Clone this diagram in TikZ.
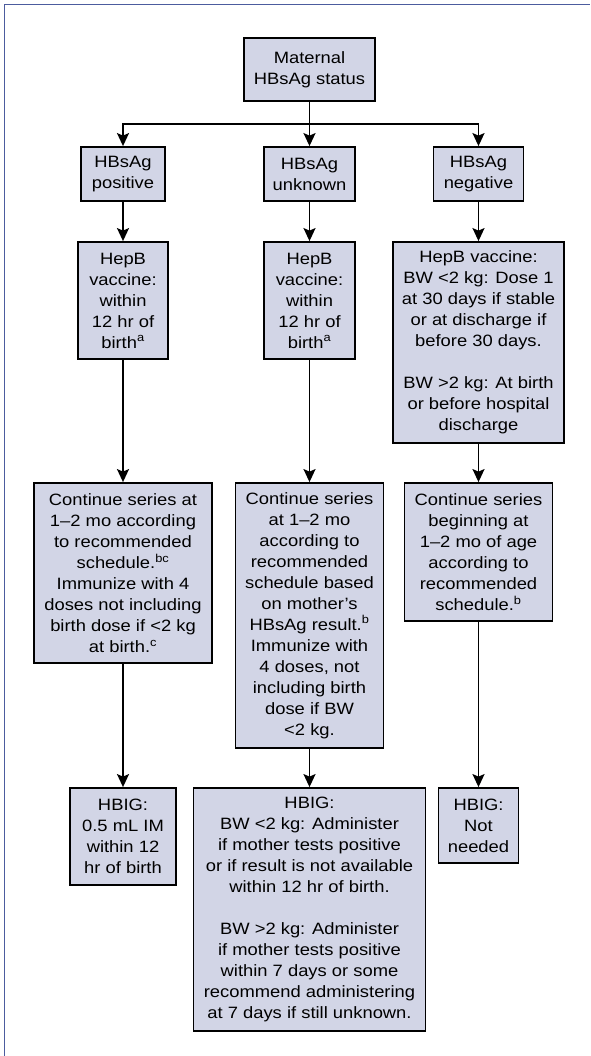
\documentclass[tikz,border=0pt]{standalone}
\usepackage{fontspec}
\setmainfont{Liberation Sans}[FakeStretch=1.12]
\usetikzlibrary{arrows.meta}
\definecolor{boxfill}{RGB}{210,213,230}
\definecolor{framecol}{RGB}{76,92,158}
\begin{document}
\begin{tikzpicture}[x=1pt,y=-1pt,
  box/.style={draw=black,line width=1.8pt,fill=boxfill,inner sep=0pt,
    align=center,font=\fontsize{16.4}{21}\selectfont},
  link/.style={line width=1.8pt},
  arr/.style={link,-{Stealth[length=13pt,width=12pt,inset=2.5pt]}}]
\useasboundingbox (0,0) rectangle (590,1056);
% frame lines along the top and left edges
\draw[framecol,line width=1.6pt] (4.5,1056) -- (4.5,4.5) -- (590,4.5);

% top
\node[box,minimum width=131,minimum height=63] (top) at (309.5,69.5)
  {Maternal\\HBsAg status};

% status boxes
\node[box,minimum width=84,minimum height=54] (pos) at (123,174) {HBsAg\\positive};
\node[box,minimum width=91,minimum height=54] (unk) at (309.5,174) {HBsAg\\unknown};
\node[box,minimum width=90,minimum height=54] (neg) at (478.5,174) {HBsAg\\negative};

% vaccine at birth
\node[box,minimum width=90,minimum height=117] (vpos) at (123,300.5)
  {HepB\\vaccine:\\within\\12 hr of\\birth\textsuperscript{a}};
\node[box,minimum width=91,minimum height=117] (vunk) at (309.5,300.5)
  {HepB\\vaccine:\\within\\12 hr of\\birth\textsuperscript{a}};
\node[box,minimum width=171,minimum height=201] (vneg) at (478.5,342.5)
  {HepB vaccine:\\BW <2 kg: Dose 1\\at 30 days if stable\\or at discharge if\\before 30 days.\\[21pt]BW >2 kg: At birth\\or before hospital\\discharge};

% series continuation
\node[box,minimum width=178,minimum height=180] (cpos) at (123,573)
  {Continue series at\\1–2 mo according\\to recommended\\schedule.\textsuperscript{bc}\\Immunize with 4\\doses not including\\birth dose if <2 kg\\at birth.\textsuperscript{c}};
\node[box,minimum width=148,minimum height=265] (cunk) at (309.5,615.5)
  {Continue series\\at 1–2 mo\\according to\\recommended\\schedule based\\on mother’s\\HBsAg result.\textsuperscript{b}\\Immunize with\\4 doses, not\\including birth\\dose if BW\\<2 kg.};
\node[box,minimum width=148,minimum height=138] (cneg) at (478.5,552)
  {Continue series\\beginning at\\1–2 mo of age\\according to\\recommended\\schedule.\textsuperscript{b}};

% HBIG
\node[box,minimum width=106,minimum height=97] (hpos) at (123,836.5)
  {HBIG:\\0.5 mL IM\\within 12\\hr of birth};
\node[box,minimum width=232,minimum height=243] (hunk) at (309.5,909.5)
  {HBIG:\\BW <2 kg: Administer\\if mother tests positive\\or if result is not available\\within 12 hr of birth.\\[21pt]BW >2 kg: Administer\\if mother tests positive\\within 7 days or some\\recommend administering\\at 7 days if still unknown.};
\node[box,minimum width=80,minimum height=75] (hneg) at (478.5,825.5)
  {HBIG:\\Not\\needed};

% connectors
\coordinate (bus) at (309.5,124);
\draw[link] (top.south) -- (bus);
\draw[arr] (bus) -| (pos.north);
\draw[arr] (bus) -| (neg.north);
\draw[arr] (bus) -- (unk.north);

\draw[arr] (pos) -- (vpos);
\draw[arr] (unk) -- (vunk);
\draw[arr] (neg) -- (vneg);

\draw[arr] (vpos) -- (cpos);
\draw[arr] (vunk) -- (cunk);
\draw[arr] (vneg) -- (cneg);

\draw[arr] (cpos) -- (hpos);
\draw[arr] (cunk) -- (hunk);
\draw[arr] (cneg) -- (hneg);
\end{tikzpicture}
\end{document}
